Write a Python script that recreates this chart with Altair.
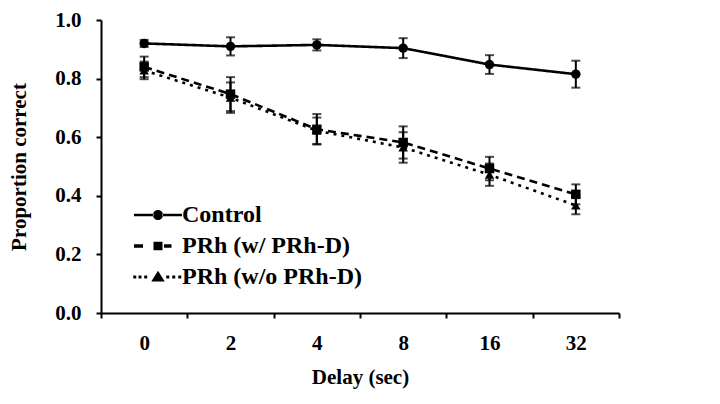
import altair as alt
import pandas as pd

delays = ["0", "2", "4", "8", "16", "32"]
series_names = ["Control", "PRh (w/ PRh-D)", "PRh (w/o PRh-D)"]

control = [0.920, 0.910, 0.915, 0.904, 0.848, 0.815]
control_err = [0.012, 0.031, 0.019, 0.034, 0.032, 0.046]
prh_w = [0.840, 0.747, 0.627, 0.582, 0.493, 0.405]
prh_w_err = [0.035, 0.058, 0.052, 0.055, 0.040, 0.034]
prh_wo = [0.828, 0.735, 0.622, 0.565, 0.472, 0.367]
prh_wo_err = [0.030, 0.052, 0.045, 0.052, 0.038, 0.030]

rows = []
for name, vals, errs in zip(series_names, [control, prh_w, prh_wo],
                            [control_err, prh_w_err, prh_wo_err]):
    for d, v, e in zip(delays, vals, errs):
        rows.append({"delay": d, "series": name, "value": v,
                     "lo": v - e, "hi": v + e})
df = pd.DataFrame(rows)

FONT = "Liberation Serif"

# legend symbols: line piece + marker, in unit coordinates
p_control = ("M-1.6,-0.09H-0.3V0.09H-1.6Z M0.3,-0.09H1.6V0.09H0.3Z "
             "M-0.34,0A0.34,0.34 0 1,0 0.34,0A0.34,0.34 0 1,0 -0.34,0Z")
p_w = ("M-1.6,-0.11H-1.0V0.11H-1.6Z M-0.3,-0.28H0.3V0.28H-0.3Z "
       "M0.4,-0.11H0.9V0.11H0.4Z")
p_wo = ("M-1.65,-0.1H-1.45V0.1H-1.65Z M-1.3,-0.1H-1.1V0.1H-1.3Z "
        "M-0.92,-0.1H-0.72V0.1H-0.92Z M0,-0.42L0.45,0.3H-0.45Z "
        "M0.55,-0.1H0.75V0.1H0.55Z M0.95,-0.1H1.15V0.1H0.95Z "
        "M1.35,-0.1H1.55V0.1H1.35Z")

x_enc = alt.X(
    "delay:N", sort=delays,
    scale=alt.Scale(type="band", paddingInner=0, paddingOuter=0),
    axis=alt.Axis(title="Delay (sec)", labelAngle=0, tickBand="extent",
                  labelPadding=14, titlePadding=13),
)
y_scale = alt.Scale(domain=[0, 1])
y_axis = alt.Axis(title="Proportion correct", values=[0, 0.2, 0.4, 0.6, 0.8, 1.0],
                  format=".1f", labelPadding=15, titlePadding=25, grid=False)

base = alt.Chart(df)

line_layers = []
for name, dash in zip(series_names, [[1, 0], [8, 5], [3, 5]]):
    line_layers.append(
        base.transform_filter(alt.datum.series == name)
        .mark_line(strokeWidth=2.6, color="black", strokeDash=dash)
        .encode(x=x_enc, y=alt.Y("value:Q", scale=y_scale, axis=y_axis))
    )

rules = base.mark_rule(strokeWidth=2, color="black").encode(
    x=x_enc, y=alt.Y("lo:Q", scale=y_scale), y2="hi:Q"
)
caps_lo = base.mark_tick(size=9, thickness=2, color="black", orient="horizontal").encode(
    x=x_enc, y=alt.Y("lo:Q", scale=y_scale)
)
caps_hi = base.mark_tick(size=9, thickness=2, color="black", orient="horizontal").encode(
    x=x_enc, y=alt.Y("hi:Q", scale=y_scale)
)

marker_layers = []
for name, shp in zip(series_names, ["circle", "square", "triangle-up"]):
    marker_layers.append(
        base.transform_filter(alt.datum.series == name)
        .mark_point(filled=True, opacity=1, color="black", size=90, shape=shp)
        .encode(x=x_enc, y=alt.Y("value:Q", scale=y_scale))
    )

legend_layer = base.mark_point(
    filled=True, color="black", opacity=0
).encode(
    x=x_enc,
    y=alt.Y("value:Q", scale=y_scale),
    shape=alt.Shape(
        "series:N",
        scale=alt.Scale(domain=series_names, range=[p_control, p_w, p_wo]),
        legend=alt.Legend(
            title=None, orient="none", legendX=42, legendY=180,
            symbolSize=900, labelOffset=9, rowPadding=4, padding=0,
            symbolFillColor="black", symbolStrokeWidth=0, symbolOpacity=1,
            labelFont=FONT, labelFontSize=24, labelFontWeight="bold",
            labelColor="black", labelLimit=400,
        ),
    ),
)

chart = alt.layer(*line_layers, rules, caps_lo, caps_hi, *marker_layers, legend_layer).properties(
    width=518, height=293,
    autosize=alt.AutoSizeParams(type="none"),
    padding={"left": 93, "top": 12, "right": 10, "bottom": 80},
    background="white",
).configure_view(stroke=None).configure_axis(
    domainColor="black", domainWidth=2, tickColor="black", tickWidth=2, tickSize=5,
    labelFont=FONT, labelFontSize=21, labelFontWeight="bold", labelColor="black",
    titleFont=FONT, titleFontSize=21, titleFontWeight="bold", titleColor="black",
)

chart.save("out.html", embed_options={"renderer": "svg", "actions": False})
